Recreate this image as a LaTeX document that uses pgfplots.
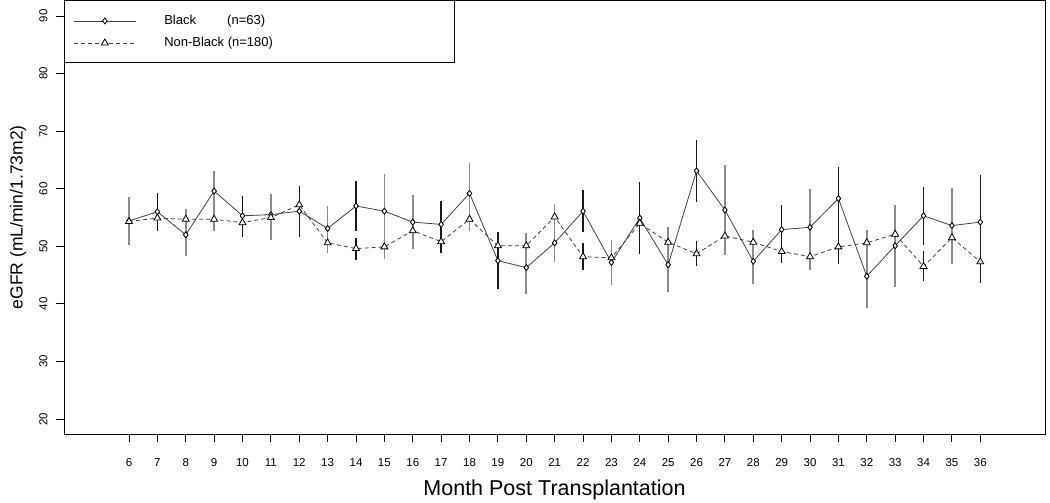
\documentclass[border=0pt]{standalone}
\usepackage{fontspec}
\setmainfont{Liberation Sans}
\usepackage{pgfplots}
\usepackage{pgfplotstable}
\pgfplotsset{compat=1.18}

% grp: 1 = light (grey) error bar, 0 = dark error bar
\pgfplotstableread{
month mean err grp
6  54.4 4.2 1
7  56.0 3.3 0
8  52.0 3.6 1
9  59.6 3.5 1
10 55.3 3.4 0
11 55.5 3.6 1
12 56.1 4.4 0
13 53.1 3.9 1
14 57.0 4.3 0
15 56.1 6.4 1
16 54.2 4.7 1
17 53.8 4.1 0
18 59.2 5.2 1
19 47.5 4.9 0
20 46.3 4.5 1
21 50.6 3.3 1
22 56.1 3.7 0
23 47.2 3.9 1
24 54.9 6.3 0
25 46.8 4.8 1
26 63.1 5.4 0
27 56.3 7.8 1
28 47.4 4.0 1
29 52.9 4.2 0
30 53.3 6.6 1
31 58.3 5.4 0
32 44.8 5.6 1
33 50.1 7.1 1
34 55.3 5.0 0
35 53.6 6.6 1
36 54.2 8.2 0
}\blackdata

\pgfplotstableread{
month mean err grp
6  54.3 2.0 1
7  54.9 2.1 0
8  54.7 1.7 1
9  54.7 2.0 1
10 54.1 2.5 0
11 55.0 3.9 1
12 57.2 3.0 0
13 50.6 1.7 1
14 49.6 1.9 0
15 49.9 2.1 1
16 52.7 2.0 1
17 50.8 2.0 0
18 54.7 2.1 1
19 50.1 2.2 0
20 50.1 2.2 1
21 55.1 2.2 1
22 48.2 2.3 0
23 48.0 2.8 1
24 54.0 3.0 0
25 50.7 2.7 1
26 48.7 2.2 0
27 51.8 2.5 1
28 50.7 2.1 1
29 49.1 2.0 0
30 48.2 2.3 1
31 49.9 2.9 0
32 50.6 2.3 1
33 52.1 2.0 1
34 46.5 2.6 0
35 51.5 2.5 1
36 47.3 3.7 0
}\nonblackdata

\begin{document}
\begin{tikzpicture}
\begin{axis}[
  at={(64pt,69pt)}, anchor=south west,
  scale only axis, width=981pt, height=433.5pt,
  xmin=3.71, xmax=38.28, ymin=17.4, ymax=92.69,
  xtick={6,...,36}, ytick={20,30,...,90},
  tick pos=left, tick align=outside, major tick length=8pt,
  axis line style={line width=0.9pt},
  every tick/.style={black, line width=0.9pt},
  /pgf/number format/assume math mode=true,
  tick label style={font=\fontsize{11.5}{13}\selectfont},
  xticklabel shift=13pt,
  yticklabel shift=5pt,
  yticklabel style={rotate=90, anchor=south},
  xlabel={Month Post Transplantation},
  ylabel={eGFR (mL/min/1.73m2)},
  xlabel style={font=\fontsize{21.5}{24}\selectfont, at={(axis description cs:0.5,-0.1292)}, anchor=center},
  ylabel style={font=\fontsize{17.5}{20}\selectfont, at={(axis description cs:-0.0469,0.5)}, anchor=center},
  legend style={at={(axis description cs:0,1)}, anchor=north west, draw=black, line width=0.9pt, fill=white,
    font=\fontsize{13}{15}\selectfont, inner xsep=9pt, inner ysep=13.5pt, row sep=9pt, column sep=28pt,
    nodes={inner sep=0pt, text height=10pt, text depth=3pt}, cells={anchor=west}},
  legend image code/.code={\draw[mark repeat=2,mark phase=2,#1] plot coordinates {(0pt,0pt) (31pt,0pt) (62pt,0pt)};},
]
% error bars, light group
\addplot[forget plot, only marks, mark=none, restrict expr to domain={\thisrow{grp}}{1:1},
  error bars/.cd, y dir=both, y explicit, error mark=none, error bar style={black!45, line width=1.6pt}]
  table[x=month, y=mean, y error=err]{\blackdata};
\addplot[forget plot, only marks, mark=none, restrict expr to domain={\thisrow{grp}}{1:1},
  error bars/.cd, y dir=both, y explicit, error mark=none, error bar style={black!45, line width=1.6pt}]
  table[x=month, y=mean, y error=err]{\nonblackdata};
% error bars, dark group
\addplot[forget plot, only marks, mark=none, restrict expr to domain={\thisrow{grp}}{0:0},
  error bars/.cd, y dir=both, y explicit, error mark=none, error bar style={black!90, line width=1.3pt}]
  table[x=month, y=mean, y error=err]{\blackdata};
\addplot[forget plot, only marks, mark=none, restrict expr to domain={\thisrow{grp}}{0:0},
  error bars/.cd, y dir=both, y explicit, error mark=none, error bar style={black!90, line width=1.3pt}]
  table[x=month, y=mean, y error=err]{\nonblackdata};
% series
\addplot[black!75, line width=0.8pt, mark=diamond*, mark size=3pt, mark options={solid, fill=white, draw=black, line width=0.8pt}]
  table[x=month, y=mean]{\blackdata};
\addlegendentry{\makebox[281pt][l]{\makebox[63pt][l]{Black}(n=63)}}
\addplot[black!75, line width=0.8pt, dash pattern=on 4pt off 3pt, mark=triangle*, mark size=4pt, mark options={solid, fill=white, draw=black, line width=0.8pt}]
  table[x=month, y=mean]{\nonblackdata};
\addlegendentry{\makebox[281pt][l]{Non-Black (n=180)}}
\end{axis}
\pgfresetboundingbox
\useasboundingbox (0,0) rectangle (1050pt,503pt);
\end{tikzpicture}
\end{document}
